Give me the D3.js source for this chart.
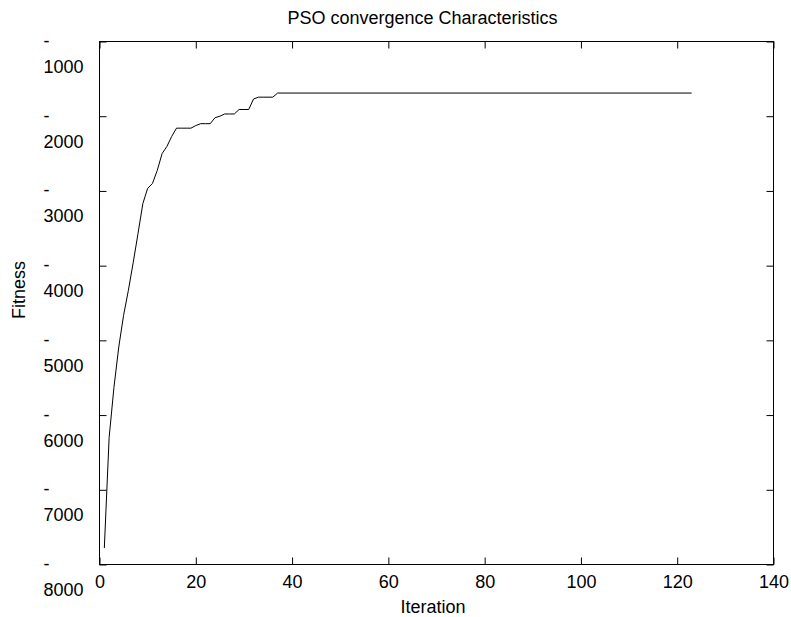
<!DOCTYPE html>
<html>
<head>
<meta charset="utf-8">
<script src="https://cdn.jsdelivr.net/npm/d3@7"></script>
<style>
  body { margin: 0; background: #fff; }
  svg { display: block; font-family: "Liberation Sans", Arial, Helvetica, sans-serif; }
</style>
</head>
<body>
<div id="chart"></div>
<script>
// data (flat tail from iteration 37 to 123)
const ITERATIONS = [1, 2, 3, 4, 5, 6, 7, 8, 9, 10, 11, 12, 13, 14, 15, 16, 17, 18, 19, 20,
                    21, 22, 23, 24, 25, 26, 27, 28, 29, 30, 31, 32, 33, 34, 35, 36, 37, 123];
const FITNESS = [-7780, -6300, -5630, -5090, -4665, -4330, -3960, -3570, -3170, -2965,
                 -2900, -2725, -2500, -2405, -2270, -2160, -2160, -2160, -2160, -2125,
                 -2100, -2100, -2100, -2020, -2000, -1970, -1970, -1970, -1910, -1910,
                 -1910, -1770, -1745, -1745, -1745, -1745, -1690, -1690];
const X_TICKS = [0, 20, 40, 60, 80, 100, 120, 140];
const Y_TICKS = [-8000, -7000, -6000, -5000, -4000, -3000, -2000, -1000];

const TITLE = "PSO convergence Characteristics";
const X_LABEL = "Iteration";
const Y_LABEL = "Fitness";

// frame
const FRAME_WIDTH = 791;
const FRAME_HEIGHT = 617;
const MARGINS = {left: 99.5, right: 17.5, top: 41.5, bottom: 52.5};
const VIS_WIDTH = FRAME_WIDTH - MARGINS.left - MARGINS.right;
const VIS_HEIGHT = FRAME_HEIGHT - MARGINS.top - MARGINS.bottom;
const TICK = 7;
const FONT = 18;

const svg = d3.select("#chart")
  .append("svg")
    .attr("width", FRAME_WIDTH)
    .attr("height", FRAME_HEIGHT);

svg.append("rect")
  .attr("width", FRAME_WIDTH)
  .attr("height", FRAME_HEIGHT)
  .attr("fill", "#fff");

const g = svg.append("g")
  .attr("transform", "translate(" + MARGINS.left + "," + MARGINS.top + ")");

const xScale = d3.scaleLinear().domain([0, 140]).range([0, VIS_WIDTH]);
const yScale = d3.scaleLinear().domain([-8000, -1000]).range([VIS_HEIGHT, 0]);

// bottom axis with labels
const xAxis = g.append("g")
  .attr("transform", "translate(0," + VIS_HEIGHT + ")")
  .call(d3.axisBottom(xScale).tickValues(X_TICKS).tickSizeInner(-TICK).tickSizeOuter(0));
xAxis.selectAll("text")
  .attr("y", 23)
  .attr("dy", null)
  .attr("font-size", FONT)
  .attr("font-family", null)
  .attr("fill", "#000");

// top axis, ticks only
g.append("g")
  .call(d3.axisTop(xScale).tickValues(X_TICKS).tickSizeInner(-TICK).tickSizeOuter(0).tickFormat(""));

// left axis: minus sign on its own line above the number
const yAxis = g.append("g")
  .call(d3.axisLeft(yScale).tickValues(Y_TICKS).tickSizeInner(-TICK).tickSizeOuter(0));
yAxis.selectAll("text")
  .attr("x", -56)
  .attr("dy", null)
  .attr("text-anchor", "start")
  .attr("font-size", FONT)
  .attr("font-family", null)
  .attr("fill", "#000")
  .each(function(d) {
    const t = d3.select(this).text("");
    t.append("tspan").attr("x", -56).attr("y", 5).text("-");
    t.append("tspan").attr("x", -56).attr("y", 31).text(Math.abs(d));
  });

// right axis, ticks only
g.append("g")
  .attr("transform", "translate(" + VIS_WIDTH + ",0)")
  .call(d3.axisRight(yScale).tickValues(Y_TICKS).tickSizeInner(-TICK).tickSizeOuter(0).tickFormat(""));

g.selectAll(".domain").remove();
g.selectAll(".tick line").attr("stroke", "#000");

// plot box
g.append("rect")
  .attr("width", VIS_WIDTH)
  .attr("height", VIS_HEIGHT)
  .attr("fill", "none")
  .attr("stroke", "#000")
  .attr("stroke-width", 1);

// convergence line
const points = ITERATIONS.map(function(d, i) { return [d, FITNESS[i]]; });
g.append("path")
  .datum(points)
  .attr("fill", "none")
  .attr("stroke", "#000")
  .attr("stroke-width", 1)
  .attr("d", d3.line()
    .x(function(d) { return xScale(d[0]); })
    .y(function(d) { return yScale(d[1]); }));

// titles
svg.append("text")
  .attr("x", 422.5)
  .attr("y", 24)
  .attr("text-anchor", "middle")
  .attr("font-size", FONT)
  .text(TITLE);

svg.append("text")
  .attr("x", MARGINS.left + VIS_WIDTH / 2 - 3.5)
  .attr("y", 613)
  .attr("text-anchor", "middle")
  .attr("font-size", FONT)
  .text(X_LABEL);

svg.append("text")
  .attr("transform", "translate(24.5,290) rotate(-90)")
  .attr("text-anchor", "middle")
  .attr("font-size", FONT)
  .text(Y_LABEL);
</script>
</body>
</html>
